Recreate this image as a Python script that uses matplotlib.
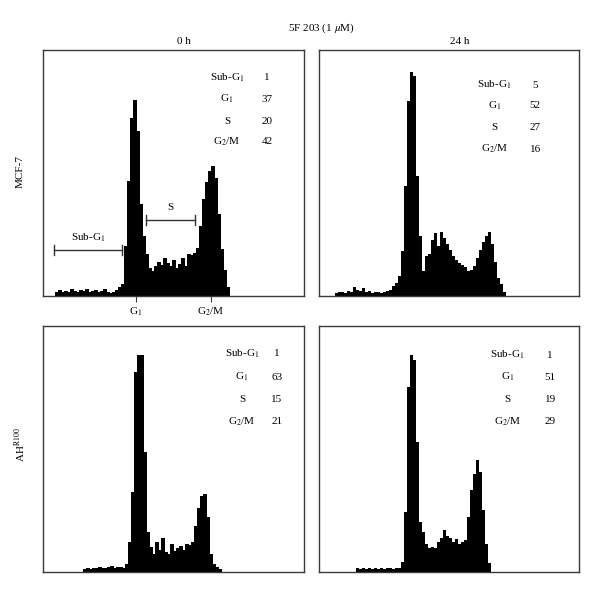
import numpy as np
import matplotlib
matplotlib.use("Agg")
import matplotlib.pyplot as plt

plt.rcParams['font.family'] = ['Liberation Serif', 'DejaVu Serif']
plt.rcParams['mathtext.fontset'] = 'stix'

# ---------------- data ----------------
bin_width = 3
phases = ["Sub-G$_1$", "G$_1$", "S", "G$_2$/M"]

# MCF-7, 0 h
mcf7_0h_start = 14
mcf7_0h_counts = [4, 6, 4, 5, 4, 7, 5, 4, 6, 5, 7, 4, 5, 6, 4, 5, 7, 4, 3, 4,
                  6, 9, 12, 50, 115, 178, 196, 165, 92, 60, 42, 28, 25, 30, 34,
                  31, 38, 33, 30, 36, 28, 32, 38, 30, 42, 41, 43, 48, 70, 97,
                  114, 125, 130, 118, 82, 47, 26, 9]
mcf7_0h_pct = [1, 37, 20, 42]

# MCF-7, 24 h
mcf7_24h_start = 18
mcf7_24h_counts = [3, 4, 4, 3, 5, 4, 9, 6, 5, 8, 4, 5, 3, 4, 4, 3, 4, 5, 6, 10,
                   13, 20, 45, 110, 195, 224, 220, 120, 60, 25, 40, 42, 56, 63,
                   50, 64, 58, 52, 46, 40, 36, 33, 31, 29, 25, 26, 30, 38, 46,
                   54, 60, 64, 52, 34, 18, 12, 4]
mcf7_24h_pct = [5, 52, 27, 16]

# AH R100, 0 h
ah_0h_start = 42
ah_0h_counts = [3, 4, 3, 4, 4, 5, 4, 4, 5, 6, 4, 5, 5, 4, 8, 30, 80, 200, 217,
                217, 120, 40, 25, 18, 30, 22, 34, 20, 18, 28, 21, 24, 26, 22,
                28, 27, 30, 46, 64, 76, 78, 55, 18, 8, 5, 3]
ah_0h_pct = [1, 63, 15, 21]

# AH R100, 24 h
ah_24h_start = 39
ah_24h_counts = [4, 3, 4, 3, 4, 3, 4, 3, 4, 3, 4, 4, 3, 4, 4, 10, 60, 185, 217,
                 212, 130, 50, 40, 28, 24, 25, 24, 30, 34, 42, 36, 34, 30, 33,
                 28, 30, 32, 55, 82, 98, 112, 100, 62, 28, 9]
ah_24h_pct = [1, 51, 19, 29]

g1_channel = 93
g2m_channel = 168
subg1_range = (11, 79)
s_range = (103, 152)

title = "5F 203 (1 $\\mu$M)"
col_titles = ["0 h", "24 h"]
row_titles = ["MCF-7", "AH$^{\\rm R100}$"]

# ---------------- figure ----------------
W, H = 600, 593
fig = plt.figure(figsize=(W / 100, H / 100), dpi=100)

def ax_at(x0, y0, x1, y1):
    return fig.add_axes([x0 / W, 1 - y1 / H, (x1 - x0) / W, (y1 - y0) / H])

axes = [
    ax_at(43, 50, 304, 296),
    ax_at(319, 50, 579, 296),
    ax_at(43, 326, 304, 572),
    ax_at(319, 326, 579, 572),
]

panels = [
    (mcf7_0h_start, mcf7_0h_counts, mcf7_0h_pct, (184, 224), [28, 49, 71, 92]),
    (mcf7_24h_start, mcf7_24h_counts, mcf7_24h_pct, (176, 217), [35, 56, 77, 99]),
    (ah_0h_start, ah_0h_counts, ah_0h_pct, (199, 234), [28, 51, 73, 96]),
    (ah_24h_start, ah_24h_counts, ah_24h_pct, (189, 232), [29, 51, 74, 96]),
]

FS = 8
for ax, (start, counts, pct, (xl, xv), rows) in zip(axes, panels):
    centers = start + bin_width * np.arange(len(counts))
    ax.bar(centers, counts, width=bin_width + 0.05, color='black',
           edgecolor='none', align='center')
    ax.set_xlim(0, 261)
    ax.set_ylim(0, 246)
    for s in ax.spines.values():
        s.set_color('#3a3a3a')
        s.set_linewidth(1.0)
    ax.set_xticks([])
    ax.set_yticks([])
    for lab, val, r in zip(phases, pct, rows):
        ax.text(xl, 246 - r, lab, ha='center', va='center', fontsize=FS)
        ax.text(xv, 246 - r, str(val), ha='center', va='center', fontsize=FS)

ax0 = axes[0]
ax0.set_xticks([g1_channel, g2m_channel])
ax0.set_xticklabels(["G$_1$", "G$_2$/M"], fontsize=FS)
ax0.tick_params(axis='x', direction='out', length=4, width=0.8,
                color='#3a3a3a', pad=3)

# gate brackets
def bracket(ax, x0, x1, y, label, ly):
    ax.plot([x0, x1], [y, y], color='#333333', lw=1.0)
    ax.plot([x0, x0], [y - 5, y + 5], color='#333333', lw=1.0)
    ax.plot([x1, x1], [y - 5, y + 5], color='#333333', lw=1.0)
    ax.text((x0 + x1) / 2, ly, label, ha='center', va='center', fontsize=FS)

bracket(ax0, subg1_range[0], subg1_range[1], 46, "Sub-G$_1$", 58)
bracket(ax0, s_range[0], s_range[1], 76, "S", 89)

fig.text(321 / W, 1 - 28 / H, title, ha='center', va='center', fontsize=FS)
fig.text(184 / W, 1 - 41 / H, col_titles[0], ha='center', va='center', fontsize=FS)
fig.text(460 / W, 1 - 41 / H, col_titles[1], ha='center', va='center', fontsize=FS)
fig.text(20 / W, 1 - 172 / H, row_titles[0], ha='center', va='center',
         rotation=90, fontsize=FS)
fig.text(20 / W, 1 - 445 / H, row_titles[1], ha='center', va='center',
         rotation=90, fontsize=FS)

fig.savefig("out.png", dpi=100, facecolor='white')
